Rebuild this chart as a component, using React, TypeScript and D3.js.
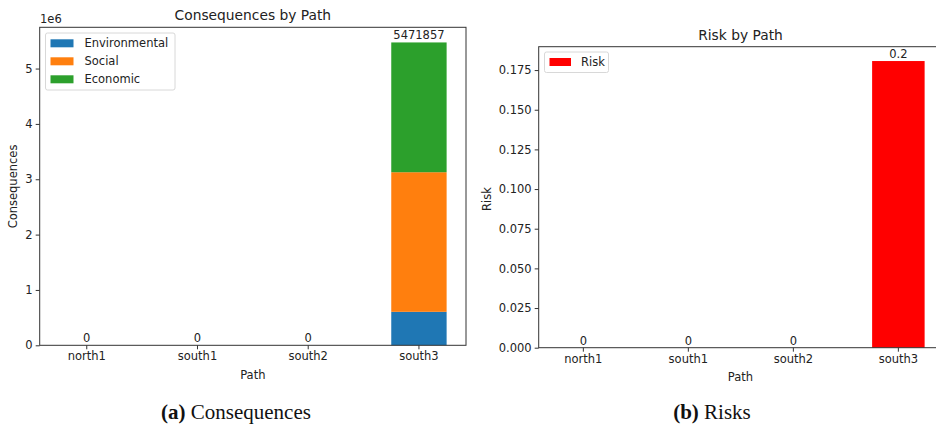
import React, { useEffect, useRef } from 'react';
import * as d3 from 'd3';

const paths = ['north1', 'south1', 'south2', 'south3'];
const environmental = [0, 0, 0, 605000];
const social = [0, 0, 0, 2522000];
const economic = [0, 0, 0, 2344857];
const consequenceKeys = ['Environmental', 'Social', 'Economic'];
const consequenceColors = ['#1f77b4', '#ff7f0e', '#2ca02c'];
const risk = [0, 0, 0, 0.1807];
const consequenceTicks = [0, 1e6, 2e6, 3e6, 4e6, 5e6];
const riskTicks = [0, 0.025, 0.05, 0.075, 0.1, 0.125, 0.15, 0.175];

const FONT = 'DejaVu Sans, sans-serif';
const INK = '#222';

function App() {
    const svgRef = useRef<SVGSVGElement>(null);

    useEffect(() => {
        const svg = d3.select(svgRef.current);
        svg.selectAll('*').remove();

        // shared axis drawing for both panels
        const drawFrame = (g, x, y, box, ticks, fmt) => {
            g.append('rect')
                .attr('x', box.left).attr('y', box.top)
                .attr('width', box.right - box.left).attr('height', box.bottom - box.top)
                .attr('fill', 'none').attr('stroke', '#333').attr('stroke-width', 1);

            const xa = g.append('g').attr('transform', `translate(0,${box.bottom})`)
                .call(d3.axisBottom(x).tickSize(4).tickPadding(3));
            xa.select('.domain').remove();
            xa.selectAll('line').attr('stroke', '#333');
            xa.selectAll('text').attr('font-family', FONT).attr('font-size', 11.5).attr('fill', INK);

            const ya = g.append('g').attr('transform', `translate(${box.left},0)`)
                .call(d3.axisLeft(y).tickValues(ticks).tickFormat(fmt).tickSize(4).tickPadding(3));
            ya.select('.domain').remove();
            ya.selectAll('line').attr('stroke', '#333');
            ya.selectAll('text').attr('font-family', FONT).attr('font-size', 11.5).attr('fill', INK);
        };

        const label = (g, x, y, text, size, opts: any = {}) => {
            const t = g.append('text')
                .attr('x', x).attr('y', y)
                .attr('text-anchor', opts.anchor || 'middle')
                .attr('dominant-baseline', opts.baseline || 'central')
                .attr('font-family', FONT).attr('font-size', size).attr('fill', INK)
                .text(text);
            if (opts.rotate) t.attr('transform', `rotate(-90,${x},${y})`);
            return t;
        };

        // ---- (a) Consequences ----
        const boxA = { left: 39.7, right: 466, top: 27.3, bottom: 345.3 };
        const gA = svg.append('g');
        const xA = d3.scaleBand().domain(paths).range([boxA.left, boxA.right]).paddingInner(0.5).paddingOuter(0.175);
        const totals = paths.map((_, i) => environmental[i] + social[i] + economic[i]);
        const yA = d3.scaleLinear().domain([0, d3.max(totals) * 1.05]).range([boxA.bottom, boxA.top]);

        const rows = paths.map((p, i) => ({ path: p, Environmental: environmental[i], Social: social[i], Economic: economic[i] }));
        const stacked = d3.stack().keys(consequenceKeys)(rows as any);
        stacked.forEach((layer, k) => {
            gA.append('g').selectAll('rect').data(layer).enter().append('rect')
                .attr('x', (d: any) => xA(d.data.path))
                .attr('width', xA.bandwidth())
                .attr('y', d => yA(d[1]))
                .attr('height', d => yA(d[0]) - yA(d[1]))
                .attr('fill', consequenceColors[k]);
        });

        drawFrame(gA, xA, yA, boxA, consequenceTicks, d => String(d / 1e6));

        paths.forEach((p, i) => {
            label(gA, xA(p) + xA.bandwidth() / 2, yA(totals[i]) - 3, String(totals[i]), 11.5, { baseline: 'auto' });
        });

        label(gA, 40, 19, '1e6', 11.5, { anchor: 'start' });
        label(gA, (boxA.left + boxA.right) / 2, 15, 'Consequences by Path', 13.8);
        label(gA, (boxA.left + boxA.right) / 2, 375, 'Path', 11.5);
        label(gA, 12.7, 186.5, 'Consequences', 11.5, { rotate: true });

        // legend
        const legA = gA.append('g');
        legA.append('rect').attr('x', 45.5).attr('y', 33).attr('width', 129.5).attr('height', 57)
            .attr('rx', 2).attr('fill', 'white').attr('fill-opacity', 0.8).attr('stroke', '#d8d8d8');
        consequenceKeys.forEach((k, i) => {
            const cy = 43.3 + i * 18;
            legA.append('rect').attr('x', 50.5).attr('y', cy - 4).attr('width', 23).attr('height', 8).attr('fill', consequenceColors[i]);
            label(legA, 84.5, cy, k, 11.5, { anchor: 'start' });
        });

        // ---- (b) Risks ----
        const boxB = { left: 538.7, right: 943, top: 46.7, bottom: 347.7 };
        const gB = svg.append('g');
        const xB = d3.scaleBand().domain(paths).range([boxB.left, boxB.right]).paddingInner(0.5).paddingOuter(0.175);
        const yB = d3.scaleLinear().domain([0, d3.max(risk) * 1.05]).range([boxB.bottom, boxB.top]);

        gB.append('g').selectAll('rect').data(risk).enter().append('rect')
            .attr('x', (_, i) => xB(paths[i]))
            .attr('width', xB.bandwidth())
            .attr('y', d => yB(d))
            .attr('height', d => yB(0) - yB(d))
            .attr('fill', '#ff0000');

        drawFrame(gB, xB, yB, boxB, riskTicks, d3.format('.3f'));

        risk.forEach((v, i) => {
            const txt = v === 0 ? '0' : d3.format('.1f')(v);
            label(gB, xB(paths[i]) + xB.bandwidth() / 2, yB(v) - 3, txt, 11.5, { baseline: 'auto' });
        });

        label(gB, 740.5, 35, 'Risk by Path', 13.8);
        label(gB, 740.5, 376.5, 'Path', 11.5);
        label(gB, 487, 199, 'Risk', 11.5, { rotate: true });

        const legB = gB.append('g');
        legB.append('rect').attr('x', 544.5).attr('y', 52).attr('width', 64).attr('height', 20.5)
            .attr('rx', 2).attr('fill', 'white').attr('fill-opacity', 0.8).attr('stroke', '#d8d8d8');
        legB.append('rect').attr('x', 549.5).attr('y', 58).attr('width', 21.5).attr('height', 8).attr('fill', '#ff0000');
        label(legB, 581, 62, 'Risk', 11.5, { anchor: 'start' });

        // ---- captions ----
        const caption = (x, y, tag, text) => {
            const t = svg.append('text').attr('x', x).attr('y', y).attr('text-anchor', 'middle')
                .attr('font-family', 'Liberation Serif, Times New Roman, serif').attr('font-size', 21).attr('fill', '#111');
            t.append('tspan').attr('font-weight', 'bold').text(tag);
            t.append('tspan').text(' ' + text);
        };
        caption(236, 419, '(a)', 'Consequences');
        caption(712, 419, '(b)', 'Risks');
    }, []);

    return (
        <svg ref={svgRef} width={936} height={427}
            style={{ position: 'absolute', left: 0, top: 0, background: 'white' }} />
    );
}

export default App;
